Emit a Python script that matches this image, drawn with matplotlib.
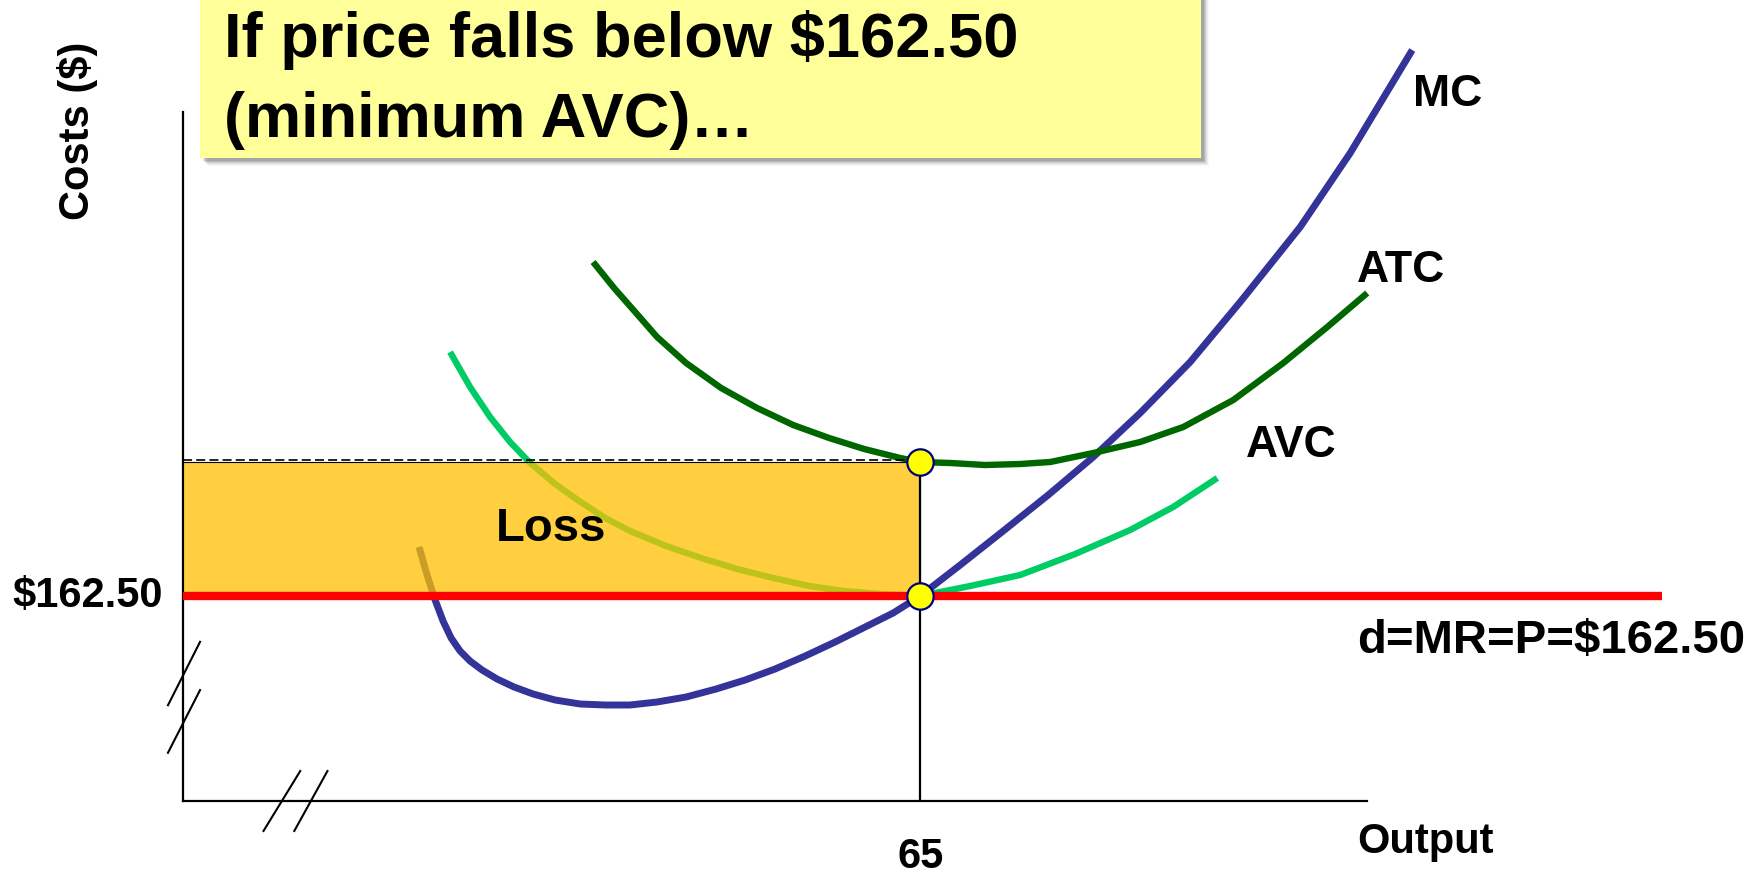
import matplotlib
matplotlib.use("Agg")
import matplotlib.pyplot as plt
from matplotlib.patches import Rectangle
import matplotlib.transforms as mtransforms

# ---- data: short-run cost curves (output units, dollars) ----
mc_q = [20.81, 21.52, 22.23, 22.93, 23.64, 24.43, 25.31, 26.37, 27.69, 29.19,
        30.87, 32.81, 35.01, 37.22, 39.42, 41.80, 44.36, 47.01, 49.57, 52.21,
        54.86, 57.50, 60.15, 62.62, 65.00, 68.53, 72.32, 76.29, 80.26, 84.40,
        88.81, 93.22, 98.51, 102.92, 108.39]
mc_c = [174.75, 167.75, 161.5, 156.25, 152.0, 148.75, 146.25, 144.0, 141.75,
        139.75, 138.0, 136.5, 135.5, 135.25, 135.25, 136.0, 137.25, 139.25,
        141.5, 144.25, 147.5, 151.0, 154.75, 158.25, 162.5, 170.25, 178.75,
        187.75, 197.25, 208.25, 221.0, 236.0, 254.75, 273.25, 299.0]

atc_q = [36.16, 38.01, 39.95, 41.80, 44.36, 47.45, 50.62, 53.80, 56.97, 60.06,
         63.24, 65.00, 67.65, 70.73, 73.82, 76.47, 80.26, 84.40, 88.20, 92.61,
         97.02, 100.90, 104.42]
atc_c = [246.0, 239.5, 233.25, 227.25, 220.75, 214.5, 209.5, 205.25, 202.0,
         199.25, 197.0, 196.0, 195.75, 195.25, 195.5, 196.0, 198.25, 201.0,
         204.75, 211.5, 220.75, 229.75, 238.25]

avc_q = [23.55, 25.31, 27.08, 28.84, 30.52, 32.81, 34.93, 37.22, 39.42, 42.60,
         45.69, 48.86, 52.04, 55.21, 58.30, 61.47, 65.00, 69.41, 73.82, 78.67,
         83.52, 87.31, 91.20]
avc_c = [223.5, 214.75, 207.25, 201.0, 196.0, 190.5, 186.25, 182.0, 178.75,
         175.0, 172.0, 169.25, 167.0, 165.0, 163.75, 163.0, 162.5, 165.0,
         167.75, 173.0, 179.0, 184.75, 192.0]

price = 162.50          # d = MR = P
q_star = 65             # output where MC = P
atc_at_q = 196.0        # ATC at q_star
mr_end_q = 130.4        # right end of the demand line

title_lines = ["If price falls below $162.50", "(minimum AVC)\u2026"]
y_label = "Costs ($)"
x_label = "Output"
price_label = "$162.50"
demand_label = "d=MR=P=$162.50"
qty_label = "65"
curve_labels = {"MC": (108.5, 285.0), "ATC": (103.5, 241.0), "AVC": (93.7, 197.25)}

# ---- style ----
FONT = "Liberation Sans"
plt.rcParams["font.family"] = [FONT, "DejaVu Sans"]
plt.rcParams["font.weight"] = "bold"
plt.rcParams["lines.scale_dashes"] = False

C_MC = "#333399"
C_ATC = "#006600"
C_AVC = "#00CC66"
C_MR = "#FF0000"
C_LOSS = (1.0, 0.753, 0.0, 0.75)

W, H, DPI = 1757, 874, 100
fig = plt.figure(figsize=(W / DPI, H / DPI), dpi=DPI)
fig.patch.set_facecolor("white")

ax = fig.add_axes([183 / W, (H - 801) / H, 1184 / W, 689 / H])
ax.set_xlim(0, 104.4)
ax.set_ylim(111.25, 283.5)
ax.set_xticks([])
ax.set_yticks([])
for s in ("top", "right"):
    ax.spines[s].set_visible(False)
for s in ("left", "bottom"):
    ax.spines[s].set_linewidth(1.6)
    ax.spines[s].set_color("black")
ax.patch.set_alpha(0)

# cost curves
curve = dict(solid_capstyle="butt", solid_joinstyle="round", zorder=2, clip_on=False)
ax.plot(mc_q, mc_c, color=C_MC, lw=5.0, **curve)
ax.plot(atc_q, atc_c, color=C_ATC, lw=4.6, **curve)
ax.plot(avc_q, avc_c, color=C_AVC, lw=4.6, **curve)

# loss area
ax.add_patch(Rectangle((0, price), q_star, atc_at_q - price,
                       facecolor=C_LOSS, edgecolor="black", lw=0.8, zorder=3))
up = mtransforms.offset_copy(ax.transData, fig=fig, x=0, y=2, units="dots")
ax.plot([0, q_star], [atc_at_q, atc_at_q], color="black", lw=1.2,
        dashes=(6.5, 3.0), transform=up, zorder=4)

# demand / marginal revenue line
ax.plot([0, mr_end_q], [price, price], color=C_MR, lw=6.0,
        solid_capstyle="butt", zorder=4, clip_on=False)

# output level guide
ax.plot([q_star, q_star], [ax.get_ylim()[0], atc_at_q], color="black",
        lw=1.6, zorder=4)

# marked points
ax.plot([q_star, q_star], [atc_at_q, price], ls="none", marker="o",
        ms=19, mfc="#FFFF00", mec="#000080", mew=1.6, zorder=6, clip_on=False)

# axis break marks
brk = dict(color="black", lw=1.5, transform=ax.transAxes, clip_on=False, zorder=5)
ax.plot([-0.0127, 0.0144], [0.139, 0.231], **brk)
ax.plot([-0.0127, 0.0144], [0.070, 0.161], **brk)
ax.plot([0.068, 0.099], [-0.0435, 0.0435], **brk)
ax.plot([0.094, 0.122], [-0.0435, 0.0435], **brk)

# labels
txt = dict(fontweight="bold", color="black", clip_on=False, zorder=7)
ax.text(q_star / 2, (price + atc_at_q) / 2, "Loss", ha="center", va="center",
        fontsize=34, **txt)
for name, (qx, cy) in curve_labels.items():
    ax.text(qx, cy, name, ha="left", va="baseline", fontsize=32, **txt)
ax.text(103.5, 148.25, demand_label, ha="left", va="baseline", fontsize=34, **txt)
ax.text(103.5, 98.25, x_label, ha="left", va="baseline", fontsize=30, **txt)
ax.text(q_star, 94.5, qty_label, ha="center", va="baseline", fontsize=30, **txt)
ax.annotate(price_label, xy=(0, price), xytext=(-14.4, -7.9),
            textcoords="offset points", ha="right", va="baseline",
            fontsize=30, fontweight="bold", annotation_clip=False, zorder=7)

fig.text(77 / W, 1 - 131 / H, y_label, rotation=90, ha="center", va="center",
         fontsize=30, fontweight="bold")

# title callout with a soft shadow
bx0, bx1, by0 = 200, 1201, 158
for i, a in enumerate([0.10, 0.09, 0.08, 0.06, 0.04, 0.03]):
    d = 1 + i
    fig.patches.append(Rectangle(((bx0 + d + 2) / W, (H - by0 - d - 2) / H),
                                 (bx1 - bx0) / W, (by0 + 20) / H,
                                 transform=fig.transFigure, facecolor="black",
                                 alpha=a, edgecolor="none", zorder=0))
fig.patches.append(Rectangle((bx0 / W, (H - by0) / H), (bx1 - bx0) / W,
                             (by0 + 20) / H, transform=fig.transFigure,
                             facecolor="#FFFF99", edgecolor="none", zorder=1))
fig.text(224 / W, 1 - 57 / H, title_lines[0], ha="left", va="baseline",
         fontsize=45.5, fontweight="bold", zorder=3)
fig.text(224 / W, 1 - 137 / H, title_lines[1], ha="left", va="baseline",
         fontsize=45.5, fontweight="bold", zorder=3)

fig.savefig("out.png", dpi=DPI)
